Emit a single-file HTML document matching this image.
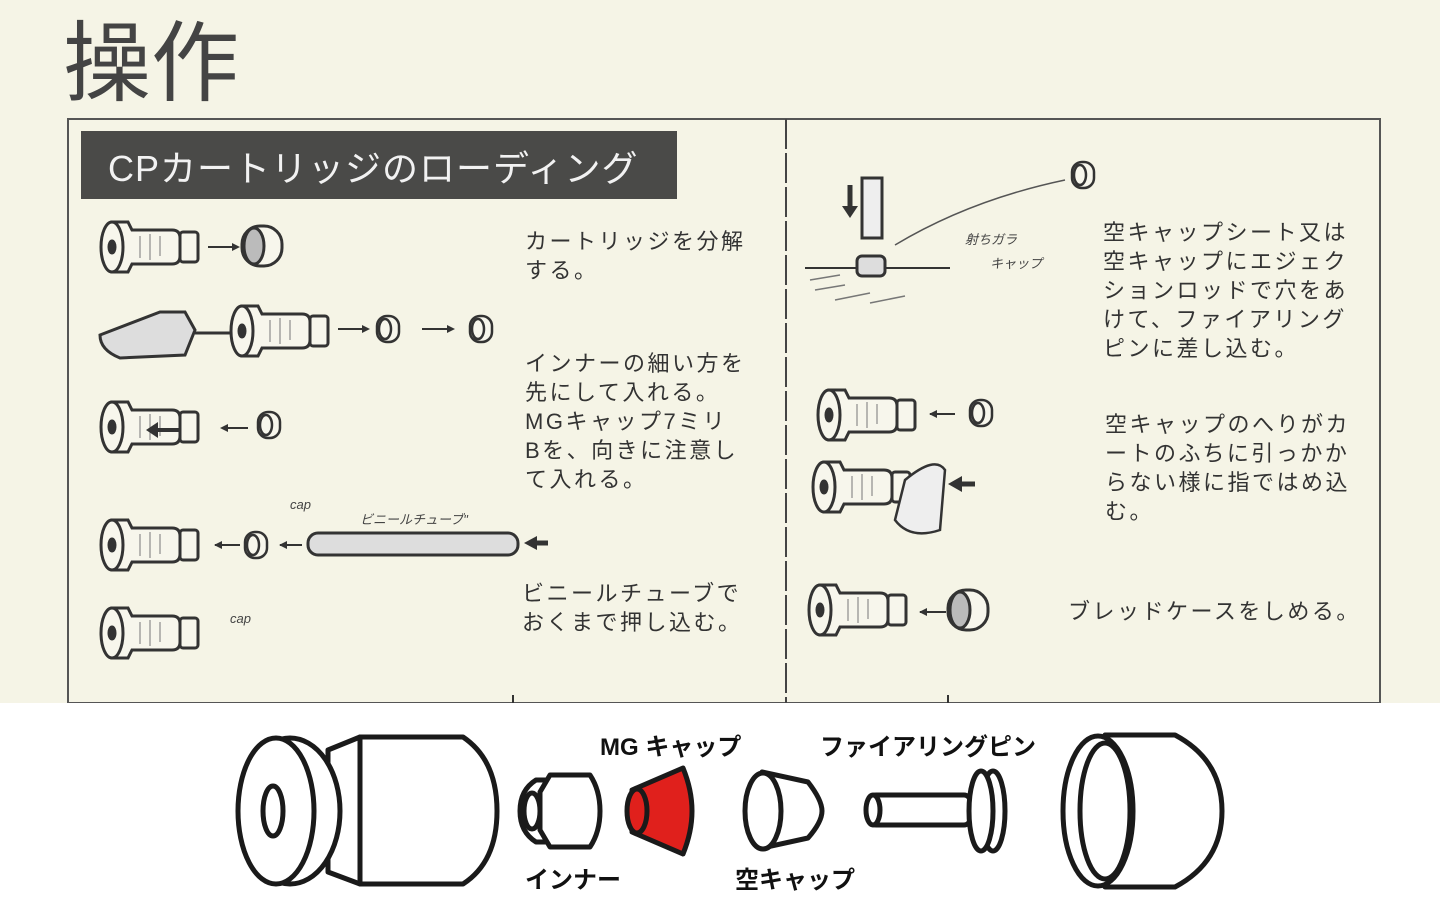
<!DOCTYPE html>
<html><head><meta charset="utf-8"><style>
html,body{margin:0;padding:0;width:1440px;height:917px;overflow:hidden;background:#f5f4e6}
svg{display:block}
.t{font-family:"Liberation Sans","Noto Sans CJK JP",sans-serif;font-size:22px;fill:#333;letter-spacing:2.5px}
.h{font-family:"Liberation Sans","Noto Sans CJK JP",sans-serif;font-size:13px;fill:#444;font-style:italic}
.b{font-family:"Liberation Sans","Noto Sans CJK JP",sans-serif;font-size:24px;font-weight:bold;fill:#111}
</style></head><body>
<svg width="1440" height="917" viewBox="0 0 1440 917" xmlns="http://www.w3.org/2000/svg">
<defs>
<g id="cart" fill="#f7f6ec" stroke="#333" stroke-width="3">
 <rect x="80" y="10" width="18" height="30" rx="3"/>
 <path d="M12 0 H28 L32 8 H72 Q80 8 80 16 V34 Q80 42 72 42 H32 L28 50 H12 Z"/>
 <ellipse cx="12" cy="25" rx="11" ry="25"/>
 <ellipse cx="12" cy="25" rx="3" ry="6" fill="#333"/>
 <path d="M40 14 V36 M50 12 V38 M60 14 V34" stroke-width="1" stroke="#777"/>
</g>
<g id="nut" fill="#f7f6ec" stroke="#333" stroke-width="3">
 <rect x="0" y="0" width="40" height="40" rx="18"/>
 <ellipse cx="12" cy="20" rx="10" ry="18" fill="#bbb"/>
</g>
<g id="sm" fill="#f7f6ec" stroke="#333" stroke-width="2.5">
 <rect x="0" y="0" width="22" height="26" rx="10"/>
 <ellipse cx="8" cy="13" rx="6" ry="10"/>
</g>
</defs>
<rect x="0" y="0" width="1440" height="917" fill="#f5f4e6"/>
<text x="63" y="94" font-family="Liberation Sans,Noto Sans CJK JP,sans-serif" font-size="88" fill="#444">操作</text>
<rect x="68" y="119" width="1312" height="584" fill="none" stroke="#555" stroke-width="2"/>
<line x1="786" y1="119" x2="786" y2="703" stroke="#444" stroke-width="2" stroke-dasharray="30 4"/>
<rect x="81" y="131" width="596" height="68" fill="#4a4a48"/>
<text x="108" y="181" font-family="Liberation Sans,Noto Sans CJK JP,sans-serif" font-size="36" fill="#f2f2f2" letter-spacing="1">CPカートリッジのローディング</text>

<use href="#cart" x="100" y="222"/>
<path d="M208 247 H232" stroke="#333" stroke-width="2"/><path d="M232 243 L240 247 L232 251Z" fill="#333"/>
<use href="#nut" x="242" y="226"/>
<path d="M100 335 L160 312 H185 L195 330 L185 355 L120 358 Q100 350 100 335Z" fill="#ddd" stroke="#333" stroke-width="3"/>
<line x1="195" y1="333" x2="232" y2="333" stroke="#333" stroke-width="3"/>
<use href="#cart" x="230" y="306"/>
<path d="M338 329 H362" stroke="#333" stroke-width="2"/><path d="M362 325 L370 329 L362 333Z" fill="#333"/>
<use href="#sm" x="377" y="316"/>
<path d="M422 329 H447" stroke="#333" stroke-width="2"/><path d="M447 325 L455 329 L447 333Z" fill="#333"/>
<use href="#sm" x="470" y="316"/>
<use href="#cart" x="100" y="402"/>
<path d="M150 430 H180" stroke="#333" stroke-width="4"/><path d="M158 422 L146 430 L158 438Z" fill="#333"/>
<path d="M222 428 H248" stroke="#333" stroke-width="2"/><path d="M228 424 L220 428 L228 432Z" fill="#333"/>
<use href="#sm" x="258" y="412"/>
<use href="#cart" x="100" y="520"/>
<path d="M215 545 H240" stroke="#333" stroke-width="2"/><path d="M222 541 L214 545 L222 549Z" fill="#333"/>
<use href="#sm" x="245" y="532"/>
<path d="M280 545 H302" stroke="#333" stroke-width="2"/><path d="M287 541 L279 545 L287 549Z" fill="#333"/>
<rect x="308" y="533" width="210" height="22" rx="10" fill="#ddd" stroke="#333" stroke-width="3"/>
<path d="M548 543 H535" stroke="#333" stroke-width="5"/><path d="M537 536 L524 543 L537 550Z" fill="#333"/>
<text class="h" x="290" y="509">cap</text>
<text class="h" x="360" y="524">ビニールチューブ"</text>
<use href="#cart" x="100" y="608"/>
<text class="h" x="230" y="623">cap</text>

<text class="t" x="525" y="249">カートリッジを分解</text>
<text class="t" x="525" y="278">する。</text>
<text class="t" x="525" y="371">インナーの細い方を</text>
<text class="t" x="525" y="400">先にして入れる。</text>
<text class="t" x="525" y="429">MGキャップ7ミリ</text>
<text class="t" x="525" y="458">Bを、向きに注意し</text>
<text class="t" x="525" y="487">て入れる。</text>
<text class="t" x="522" y="601">ビニールチューブで</text>
<text class="t" x="522" y="630">おくまで押し込む。</text>

<rect x="862" y="178" width="20" height="60" fill="#eee" stroke="#333" stroke-width="3"/>
<path d="M850 185 V210" stroke="#333" stroke-width="5"/><path d="M842 206 L850 218 L858 206Z" fill="#333"/>
<line x1="805" y1="268" x2="950" y2="268" stroke="#333" stroke-width="2"/>
<rect x="857" y="256" width="28" height="20" rx="5" fill="#ddd" stroke="#333" stroke-width="3"/>
<path d="M810 280 L840 275 M815 290 L845 285 M835 300 L870 293 M870 303 L905 296" stroke="#777" stroke-width="1.5"/>
<path d="M895 245 Q970 200 1065 180" fill="none" stroke="#555" stroke-width="1.5"/>
<use href="#sm" x="1072" y="162"/>
<text class="h" x="965" y="244">射ちガラ</text>
<text class="h" x="990" y="268">キャップ</text>
<use href="#cart" x="817" y="390"/>
<path d="M930 414 H955" stroke="#333" stroke-width="2"/><path d="M937 410 L929 414 L937 418Z" fill="#333"/>
<use href="#sm" x="970" y="400"/>
<use href="#cart" x="812" y="462"/>
<path d="M905 480 Q935 455 945 470 L940 530 Q910 540 895 520Z" fill="#eee" stroke="#333" stroke-width="2.5"/>
<path d="M975 484 H962" stroke="#333" stroke-width="5"/><path d="M962 476 L948 484 L962 492Z" fill="#333"/>
<use href="#cart" x="808" y="585"/>
<path d="M920 612 H946" stroke="#333" stroke-width="2"/><path d="M927 608 L919 612 L927 616Z" fill="#333"/>
<use href="#nut" x="948" y="590"/>

<text class="t" x="1103" y="240">空キャップシート又は</text>
<text class="t" x="1103" y="269">空キャップにエジェク</text>
<text class="t" x="1103" y="298">ションロッドで穴をあ</text>
<text class="t" x="1103" y="327">けて、ファイアリング</text>
<text class="t" x="1103" y="356">ピンに差し込む。</text>
<text class="t" x="1105" y="432">空キャップのへりがカ</text>
<text class="t" x="1105" y="461">ートのふちに引っかか</text>
<text class="t" x="1105" y="490">らない様に指ではめ込</text>
<text class="t" x="1105" y="519">む。</text>
<text class="t" x="1068" y="619">ブレッドケースをしめる。</text>

<rect x="0" y="703" width="1440" height="214" fill="#ffffff"/>
<line x1="513" y1="695" x2="513" y2="703" stroke="#333" stroke-width="2"/>
<line x1="948" y1="695" x2="948" y2="703" stroke="#333" stroke-width="2"/>
<g fill="#fff" stroke="#1a1a1a" stroke-width="5" stroke-linejoin="round">
 <path d="M360 737 H463 Q497 760 497 811 Q497 862 463 884 H360 Z"/>
 <path d="M328 750 L360 737 V884 L328 872 Z"/>
 <ellipse cx="290" cy="811" rx="50" ry="73"/>
 <ellipse cx="276" cy="811" rx="38" ry="73"/>
 <ellipse cx="273" cy="811" rx="10" ry="25"/>
 <path d="M536 780 H550 V802 H523 L523 820 H550 V842 H536 Q520 832 520 811 Q520 790 536 780Z"/>
 <path d="M550 775 H590 Q600 790 600 811 Q600 832 590 847 H550 L540 830 V792 Z"/>
 <ellipse cx="532" cy="811" rx="8" ry="18"/>
 <path d="M632 790 L683 768 Q692 790 692 811 Q692 832 683 854 L632 832 Z" fill="#e0201c"/>
 <ellipse cx="637" cy="811" rx="10" ry="22" fill="#e0201c"/>
 <path d="M762 772 L808 782 Q822 800 822 811 Q822 822 808 838 L762 848 Z"/>
 <ellipse cx="763" cy="811" rx="18" ry="38"/>
 <rect x="870" y="795" width="100" height="30" rx="6"/>
 <ellipse cx="873" cy="810" rx="7" ry="15"/>
 <ellipse cx="993" cy="811" rx="12" ry="40"/>
 <ellipse cx="981" cy="811" rx="12" ry="40"/>
 <path d="M1105 735 H1175 Q1222 760 1222 811 Q1222 862 1175 887 H1105 Z"/>
 <ellipse cx="1098" cy="811" rx="35" ry="75"/>
 <ellipse cx="1105" cy="811" rx="25" ry="68"/>
</g>
<text class="b" x="600" y="755">MG キャップ</text>
<text class="b" x="820" y="755">ファイアリングピン</text>
<text class="b" x="525" y="888">インナー</text>
<text class="b" x="735" y="888">空キャップ</text>
</svg>
</body></html>
